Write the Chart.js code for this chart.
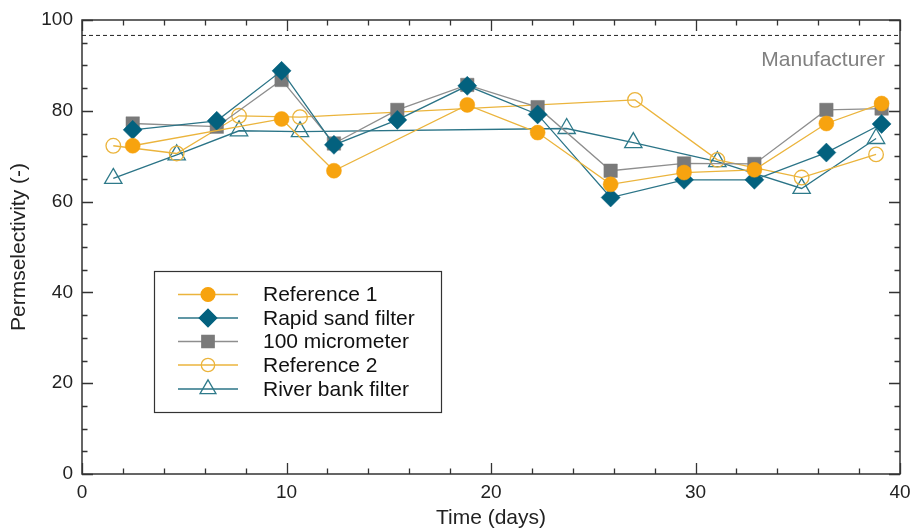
<!DOCTYPE html>
<html><head><meta charset="utf-8">
<script src="https://cdn.jsdelivr.net/npm/chart.js@4.4.1/dist/chart.umd.min.js"></script>
<style>html,body{margin:0;padding:0;background:#fff}#wrap{width:914px;height:531px;position:relative}</style>
</head><body><div id="wrap"><canvas id="c" width="914" height="531"></canvas></div>
<script>
// ---- data ----
const ref1Days = [2.48, 9.76, 12.32, 18.84, 22.28, 25.85, 29.44, 32.88, 36.4, 39.1];
const ref1Vals = [72.3, 78.2, 66.8, 81.3, 75.2, 63.8, 66.4, 67.0, 77.2, 81.6];
const rsfDays  = [2.48, 6.59, 9.76, 12.32, 15.42, 18.84, 22.28, 25.85, 29.44, 32.88, 36.4, 39.1];
const rsfVals  = [75.8, 77.8, 88.8, 72.5, 78.0, 85.5, 79.2, 60.9, 64.8, 64.8, 70.8, 77.1];
const micDays  = [2.48, 6.59, 9.76, 12.32, 15.42, 18.84, 22.28, 25.85, 29.44, 32.88, 36.4, 39.1];
const micVals  = [77.2, 76.5, 86.8, 72.8, 80.2, 85.7, 80.8, 66.8, 68.4, 68.3, 80.2, 80.5];
const ref2Days = [1.53, 4.63, 7.68, 10.66, 27.04, 31.07, 35.19, 38.83];
const ref2Vals = [72.3, 70.6, 78.9, 78.6, 82.4, 69.2, 65.3, 70.4];
const rbfDays  = [1.53, 4.63, 7.68, 10.66, 23.7, 26.96, 31.07, 35.19, 38.83];
const rbfVals  = [65.1, 70.3, 75.6, 75.4, 76.1, 73.0, 68.8, 62.9, 73.9];
const manufacturerLine = [0, 40];
const manufacturerValue = 96.6;
const seriesNames = ['Reference 1', 'Rapid sand filter', '100 micrometer', 'Reference 2', 'River bank filter'];
const xTickValues = [0, 10, 20, 30, 40];
const yTickValues = [0, 20, 40, 60, 80, 100];

const toXY = (xs, ys) => xs.map((x, i) => ({x, y: ys[i]}));

const ORANGE = '#F7A30F', ORANGE_LINE = '#EBB43C';
const TEAL = '#03617E', TEAL_LINE = '#2B7487', TEAL_OPEN = '#2E7A8A';
const GRAY = '#7A7A7A', GRAY_LINE = '#8E8E8E';
const FONT = "'Liberation Sans', Arial, sans-serif";

const styles = [
  {name: seriesNames[0], style: 'circle', r: 7.5, fill: ORANGE, stroke: ORANGE, line: ORANGE_LINE},
  {name: seriesNames[1], style: 'rectRot', r: 9.5, fill: TEAL, stroke: TEAL, line: TEAL_LINE},
  {name: seriesNames[2], style: 'rect', r: 9.5, fill: GRAY, stroke: GRAY, line: GRAY_LINE},
  {name: seriesNames[3], style: 'circle', r: 7.3, fill: 'rgba(0,0,0,0)', stroke: ORANGE_LINE, line: ORANGE_LINE},
  {name: seriesNames[4], style: 'triangle', r: 10, fill: 'rgba(0,0,0,0)', stroke: TEAL_OPEN, line: TEAL_LINE}
];
const allData = [toXY(ref1Days, ref1Vals), toXY(rsfDays, rsfVals), toXY(micDays, micVals), toXY(ref2Days, ref2Vals), toXY(rbfDays, rbfVals)];

const datasets = styles.map((s, i) => ({
  label: s.name,
  data: allData[i],
  showLine: true,
  borderColor: s.line,
  borderWidth: 1.3,
  pointStyle: s.style,
  pointRadius: s.r,
  pointHoverRadius: s.r,
  pointBackgroundColor: s.fill,
  pointBorderColor: s.stroke,
  pointBorderWidth: (i >= 3) ? 1.3 : 0.5,
  tension: 0,
  order: i
}));
datasets.push({
  label: 'Manufacturer',
  data: manufacturerLine.map(x => ({x, y: manufacturerValue})),
  showLine: true,
  borderColor: '#222',
  borderWidth: 1,
  borderDash: [4, 3],
  pointRadius: 0,
  order: 10
});

const framePlugin = {
  id: 'frame',
  beforeDatasetsDraw(chart) {
    const {ctx, chartArea: a, scales: {x, y}} = chart;
    ctx.save();
    ctx.strokeStyle = '#333';
    ctx.lineWidth = 1.5;
    ctx.strokeRect(a.left, a.top, a.right - a.left, a.bottom - a.top);
    ctx.lineWidth = 1.3;
    ctx.beginPath();
    for (let v = 0; v <= 40; v += 2) {
      const px = Math.round(x.getPixelForValue(v)) + 0.5;
      const len = (v % 10 === 0) ? 11 : 5.5;
      ctx.moveTo(px, a.bottom); ctx.lineTo(px, a.bottom - len);
      ctx.moveTo(px, a.top); ctx.lineTo(px, a.top + len);
    }
    for (let v = 0; v <= 100; v += 5) {
      const py = Math.round(y.getPixelForValue(v)) + 0.5;
      const len = (v % 20 === 0) ? 11 : 5.5;
      ctx.moveTo(a.left, py); ctx.lineTo(a.left + len, py);
      ctx.moveTo(a.right, py); ctx.lineTo(a.right - len, py);
    }
    ctx.stroke();
    ctx.restore();
  },
  afterDraw(chart) {
    const {ctx, chartArea: a} = chart;
    ctx.save();
    // Manufacturer label
    ctx.fillStyle = '#808080';
    ctx.font = `21px ${FONT}`;
    ctx.textAlign = 'right';
    ctx.textBaseline = 'middle';
    ctx.fillText('Manufacturer', a.right - 15, 60);
    // Legend
    const bx = 154.5, by = 271.5, bw = 287, bh = 141;
    ctx.fillStyle = '#fff';
    ctx.fillRect(bx, by, bw, bh);
    ctx.strokeStyle = '#333';
    ctx.lineWidth = 1.2;
    ctx.strokeRect(bx, by, bw, bh);
    const rowY = [294.5, 318, 341.5, 365, 389];
    styles.forEach((s, i) => {
      const yy = rowY[i];
      ctx.strokeStyle = s.line;
      ctx.lineWidth = 1.3;
      ctx.beginPath(); ctx.moveTo(178, yy); ctx.lineTo(238, yy); ctx.stroke();
      drawMarker(ctx, s, 208, yy);
      ctx.fillStyle = '#111';
      ctx.font = `21px ${FONT}`;
      ctx.textAlign = 'left';
      ctx.textBaseline = 'middle';
      ctx.fillText(s.name, 263, yy + 1);
    });
    ctx.restore();
  }
};

function drawMarker(ctx, s, x, y) {
  ctx.save();
  ctx.fillStyle = s.fill;
  ctx.strokeStyle = s.stroke;
  ctx.lineWidth = 1.3;
  ctx.beginPath();
  const r = s.r * 0.92;
  if (s.style === 'circle') {
    ctx.arc(x, y, r, 0, Math.PI * 2);
  } else if (s.style === 'rectRot') {
    ctx.moveTo(x - r, y); ctx.lineTo(x, y - r); ctx.lineTo(x + r, y); ctx.lineTo(x, y + r); ctx.closePath();
  } else if (s.style === 'rect') {
    const h = Math.SQRT1_2 * r;
    ctx.rect(x - h, y - h, 2 * h, 2 * h);
  } else if (s.style === 'triangle') {
    const h = r * Math.sqrt(3) / 2;
    ctx.moveTo(x, y - r); ctx.lineTo(x + h, y + r / 2); ctx.lineTo(x - h, y + r / 2); ctx.closePath();
  }
  ctx.fill();
  ctx.stroke();
  ctx.restore();
}

new Chart(document.getElementById('c'), {
  type: 'scatter',
  data: {datasets},
  options: {
    responsive: false,
    animation: false,
    devicePixelRatio: 1,
    layout: {padding: {top: 20, right: 14, left: 0, bottom: 0}},
    plugins: {legend: {display: false}, tooltip: {enabled: false}},
    scales: {
      x: {
        type: 'linear', min: 0, max: 40,
        afterBuildTicks: (s) => { s.ticks = xTickValues.map(v => ({value: v})); },
        afterFit: (s) => { s.height = 57; s.paddingLeft = 0; s.paddingRight = 0; },
        grid: {display: false, drawTicks: false},
        border: {display: false},
        ticks: {padding: 7, color: '#222', font: {family: FONT, size: 19}},
        title: {display: true, text: 'Time (days)', color: '#222', font: {family: FONT, size: 21}, padding: 0}
      },
      y: {
        type: 'linear', min: 0, max: 100,
        afterBuildTicks: (s) => { s.ticks = yTickValues.map(v => ({value: v})); },
        afterFit: (s) => { s.width = 82; s.paddingTop = 0; s.paddingBottom = 0; },
        grid: {display: false, drawTicks: false},
        border: {display: false},
        ticks: {padding: 9, color: '#222', font: {family: FONT, size: 19}},
        title: {display: true, text: 'Permselectivity (-)', color: '#222', font: {family: FONT, size: 21}, padding: 7}
      }
    }
  },
  plugins: [framePlugin]
});
</script>
</body></html>
